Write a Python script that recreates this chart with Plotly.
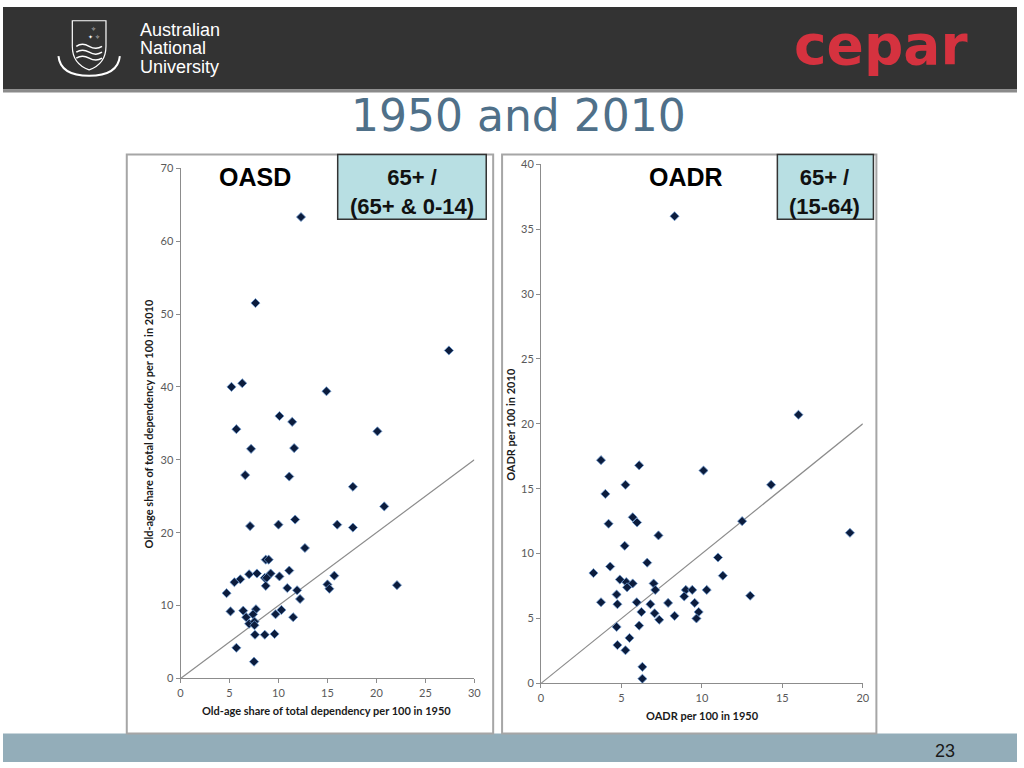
import plotly.graph_objects as go

# ---------------- data ----------------
oasd_1950 = [12.3, 7.65, 27.4, 5.2, 6.3, 14.9, 10.1, 11.4, 5.7, 20.1,
             7.2, 11.6, 6.6, 11.1, 17.6, 20.8, 7.1, 10.0, 11.7, 16.0, 17.6, 12.7,
             8.7, 9.0, 7.0, 7.8, 9.2, 11.1, 6.1, 5.5, 8.6, 8.8, 10.1, 15.7,
             4.7, 8.7, 10.9, 11.9, 15.0, 15.2, 22.1, 12.2,
             5.1, 6.4, 7.7, 7.4, 6.7, 10.3, 9.7, 11.5, 7.0, 7.55, 7.55,
             7.6, 8.6, 9.6, 5.7, 7.5]
oasd_2010 = [63.3, 51.5, 45.0, 40.0, 40.5, 39.4, 36.0, 35.2, 34.2, 33.9,
             31.5, 31.6, 27.9, 27.7, 26.3, 23.6, 20.9, 21.1, 21.8, 21.1, 20.7, 17.9,
             16.3, 16.3, 14.3, 14.4, 14.4, 14.8, 13.6, 13.2, 13.8, 13.8, 14.0, 14.1,
             11.7, 12.7, 12.4, 12.1, 12.9, 12.3, 12.8, 10.9,
             9.2, 9.3, 9.5, 8.8, 8.4, 9.4, 8.8, 8.4, 7.5, 7.8, 7.3,
             6.0, 6.0, 6.1, 4.2, 2.3]

oadr_1950 = [8.3, 16.0, 3.73, 6.1, 10.1, 5.25, 14.3, 4.0, 5.7, 5.97, 4.2, 12.5,
             7.3, 19.2, 5.2, 11.0, 6.6, 4.3, 3.26, 11.3, 4.9, 5.3, 5.7, 7.0,
             5.35, 7.1, 9.0, 9.4, 10.3, 8.9, 13.0, 4.7, 3.73, 4.75, 5.95, 6.8,
             7.9, 9.55, 9.8, 6.24, 7.06, 8.3, 7.35, 9.66, 4.7, 6.1, 5.5, 4.75,
             5.25, 6.3, 6.3]
oadr_2010 = [36.0, 20.7, 17.2, 16.8, 16.4, 15.3, 15.3, 14.6, 12.8, 12.4, 12.3, 12.5,
             11.4, 11.6, 10.6, 9.7, 9.3, 9.0, 8.5, 8.3, 8.0, 7.8, 7.7, 7.7,
             7.4, 7.2, 7.2, 7.2, 7.2, 6.7, 6.75, 6.85, 6.25, 6.1, 6.25, 6.1,
             6.2, 6.2, 5.5, 5.5, 5.4, 5.2, 4.9, 5.0, 4.35, 4.45, 3.5, 2.95,
             2.55, 1.27, 0.36]

oasd_diag = [0, 30]
oadr_diag = [0, 20]

W, H = 1024, 768
def px(x): return x / W
def py(y): return 1 - y / H

fig = go.Figure()

marker = dict(symbol="diamond", size=7, color="#0b1c3d",
              line=dict(color="#6f9bd0", width=0.8))

fig.add_trace(go.Scatter(x=oasd_diag, y=oasd_diag, mode="lines",
                         line=dict(color="#8c8c8c", width=1.2),
                         xaxis="x", yaxis="y", hoverinfo="skip"))
fig.add_trace(go.Scatter(x=oasd_1950, y=oasd_2010, mode="markers", marker=marker,
                         xaxis="x", yaxis="y", cliponaxis=False))
fig.add_trace(go.Scatter(x=oadr_diag, y=oadr_diag, mode="lines",
                         line=dict(color="#8c8c8c", width=1.2),
                         xaxis="x2", yaxis="y2", hoverinfo="skip"))
fig.add_trace(go.Scatter(x=oadr_1950, y=oadr_2010, mode="markers", marker=marker,
                         xaxis="x2", yaxis="y2", cliponaxis=False))

tickfont = dict(family="Lato, Open Sans, sans-serif", size=11, color="#595959")
axis_common = dict(showgrid=False, zeroline=False, showline=True, linecolor="#8c8c8c",
                   linewidth=1, ticks="outside", ticklen=4, tickcolor="#8c8c8c",
                   tickfont=tickfont, fixedrange=True)

shapes = [
    # header
    dict(type="rect", xref="paper", yref="paper", x0=0, x1=1, y0=py(84), y1=1,
         fillcolor="#333333", line=dict(width=0), layer="below"),
    dict(type="rect", xref="paper", yref="paper", x0=0, x1=1, y0=py(87), y1=py(84),
         fillcolor="#8a8a8a", line=dict(width=0), layer="below"),
    # footer bar
    dict(type="rect", xref="paper", yref="paper", x0=0, x1=1, y0=0, y1=py(739),
         fillcolor="#93adb9", line=dict(width=0), layer="below"),
    # chart frames
    dict(type="rect", xref="paper", yref="paper", x0=px(125), x1=px(495), y0=py(739), y1=py(150),
         fillcolor="rgba(0,0,0,0)", line=dict(color="#a6a6a6", width=2), layer="below"),
    dict(type="rect", xref="paper", yref="paper", x0=px(504), x1=px(882), y0=py(739), y1=py(150),
         fillcolor="rgba(0,0,0,0)", line=dict(color="#a6a6a6", width=2), layer="below"),
    # label boxes
    dict(type="rect", xref="paper", yref="paper", x0=px(338), x1=px(488), y0=py(216), y1=py(150),
         fillcolor="#b8dfe3", line=dict(color="#333333", width=1.5), layer="below"),
    dict(type="rect", xref="paper", yref="paper", x0=px(782), x1=px(879), y0=py(216), y1=py(150),
         fillcolor="#b8dfe3", line=dict(color="#333333", width=1.5), layer="below"),
    # ANU crest (simplified shield)
    dict(type="path", xref="paper", yref="paper",
         path=f"M {px(70)},{py(14)} L {px(104)},{py(14)} L {px(104)},{py(40)} "
              f"Q {px(104)},{py(58)} {px(87)},{py(64)} Q {px(70)},{py(58)} {px(70)},{py(40)} Z",
         line=dict(color="white", width=1.2), fillcolor="rgba(0,0,0,0)"),
    dict(type="path", xref="paper", yref="paper",
         path=f"M {px(56)},{py(50)} Q {px(58)},{py(70)} {px(87)},{py(70)} "
              f"Q {px(116)},{py(70)} {px(118)},{py(50)}",
         line=dict(color="white", width=2), fillcolor="rgba(0,0,0,0)"),
]
for yy in (40, 46, 52):
    shapes.append(dict(type="path", xref="paper", yref="paper",
                       path=f"M {px(74)},{py(yy)} Q {px(80)},{py(yy-4)} {px(87)},{py(yy)} "
                            f"Q {px(94)},{py(yy+4)} {px(100)},{py(yy)}",
                       line=dict(color="white", width=1.5)))

bold = dict(family="Lato, Open Sans, sans-serif", size=11, color="#1a1a1a")
ARIAL = "Liberation Sans, Arial, sans-serif"
NARROW = "Liberation Sans Narrow, Liberation Sans, sans-serif"

def ann(text, x, y, font, xanchor="center", **kw):
    return dict(text=text, x=px(x), y=py(y), xref="paper", yref="paper",
                xanchor=xanchor, yanchor="middle", showarrow=False, font=font, **kw)

annotations = [
    ann("1950 and 2010", 521, 110, dict(family="DejaVu Sans, sans-serif", size=44, color="#4f7089")),
    ann("<b>OASD</b>", 254, 173, dict(family=ARIAL, size=25, color="#000000")),
    ann("<b>65+ /<br>(65+ & 0-14)</b>", 413, 188, dict(family=ARIAL, size=22, color="#111111")),
    ann("<b>OADR</b>", 690, 173, dict(family=ARIAL, size=25, color="#000000")),
    ann("<b>65+ /<br>(15-64)</b>", 830, 188, dict(family=ARIAL, size=22, color="#111111")),
    ann("<b>Old-age share of total dependency per 100 in 1950</b>", 327, 716, bold),
    ann("<b>Old-age share of total dependency per 100 in 2010</b>", 147, 424, bold, textangle=-90),
    ann("<b>OADR per 100 in 1950</b>", 706, 721, bold),
    ann("<b>OADR per 100 in 2010</b>", 513, 424, bold, textangle=-90),
    ann("23", 951, 757, dict(family=NARROW, size=18, color="#1a1a1a")),
    ann("Australian", 136, 23, dict(family=NARROW, size=18, color="white"), xanchor="left"),
    ann("National", 136, 42, dict(family=NARROW, size=18, color="white"), xanchor="left"),
    ann("University", 136, 61, dict(family=NARROW, size=18, color="white"), xanchor="left"),
    ann("✧<br>✦ ✧", 92, 26, dict(size=6, color="white")),
    ann("<b>cepar</b>", 887, 39, dict(family="DejaVu Sans, sans-serif", size=55, color="#d5323f")),
]

fig.update_layout(
    width=W, height=H, autosize=False,
    margin=dict(l=0, r=0, t=0, b=0, pad=0),
    paper_bgcolor="white", plot_bgcolor="rgba(0,0,0,0)",
    showlegend=False,
    xaxis=dict(domain=[px(179.3), px(476)], range=[0, 30], dtick=5, anchor="y", **axis_common),
    yaxis=dict(domain=[py(683), py(164)], range=[0, 70], dtick=10, anchor="x", **axis_common),
    xaxis2=dict(domain=[px(543.3), px(868.3)], range=[0, 20], dtick=5, anchor="y2", **axis_common),
    yaxis2=dict(domain=[py(688), py(160)], range=[0, 40], dtick=5, anchor="x2", **axis_common),
    shapes=shapes,
    annotations=annotations,
)

# Remove the default body margin so the 1024x768 figure sits at the page origin.
post = ("document.documentElement.style.margin='0';"
        "document.body.style.margin='0';document.body.style.padding='0';"
        "document.body.style.overflow='hidden';")

fig.write_html("out.html", config={"displayModeBar": False}, post_script=post)
